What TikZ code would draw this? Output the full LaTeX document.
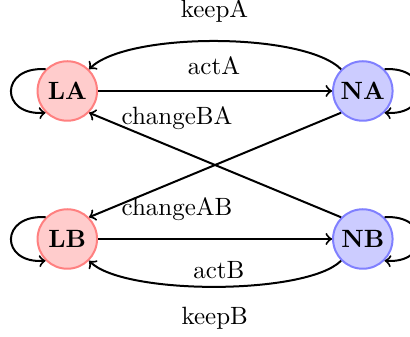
\documentclass[tikz,border=0pt]{standalone}
\usetikzlibrary{arrows}
\begin{document}
\begin{tikzpicture}[x=0.4pt,y=0.4pt,
  stateL/.style={circle,draw=red!50,fill=red!20,thick,minimum size=23.8pt,inner sep=0pt,font=\bfseries},
  stateN/.style={circle,draw=blue!50,fill=blue!20,thick,minimum size=23.8pt,inner sep=0pt,font=\bfseries},
  edgelbl/.style={inner sep=0pt},
  conn/.style={->,thick}]
\useasboundingbox (0,0) rectangle (410,337);
\node[stateL] (LA) at (67.3,246) {LA};
\node[stateN] (NA) at (362.8,246) {NA};
\node[stateL] (LB) at (67.3,98) {LB};
\node[stateN] (NB) at (362.8,98) {NB};
% straight edges
\draw[conn] (LA.east) -- (NA.west);
\draw[conn] (LB.east) -- (NB.west);
\draw[conn] (NA.south west) -- (LB.north east);
\draw[conn] (NB.north west) -- (LA.south east);
% curved edges
\draw[conn] (NA.135) .. controls +(135:53) and +(45:53) .. (LA.45);
\draw[conn] (NB.225) .. controls +(225:49) and +(-45:49) .. (LB.-45);
% loops
\draw[conn] (LA.135) .. controls +(176:46) and +(184:46) .. (LA.225);
\draw[conn] (NA.45) .. controls +(4:46) and +(-4:46) .. (NA.-45);
\draw[conn] (LB.135) .. controls +(176:46) and +(184:46) .. (LB.225);
\draw[conn] (NB.45) .. controls +(4:46) and +(-4:46) .. (NB.-45);
% labels
\node[edgelbl] (lkeepA) at (214.5,325.7) {keepA};
\node[edgelbl] (lactA) at (214,271.5) {actA};
\node[edgelbl] (lchangeBA) at (177,219.2) {changeBA};
\node[edgelbl] (lchangeAB) at (177,127.8) {changeAB};
\node[edgelbl] (lactB) at (218.8,67.3) {actB};
\node[edgelbl] (lkeepB) at (214.7,19.2) {keepB};
\end{tikzpicture}
\end{document}
